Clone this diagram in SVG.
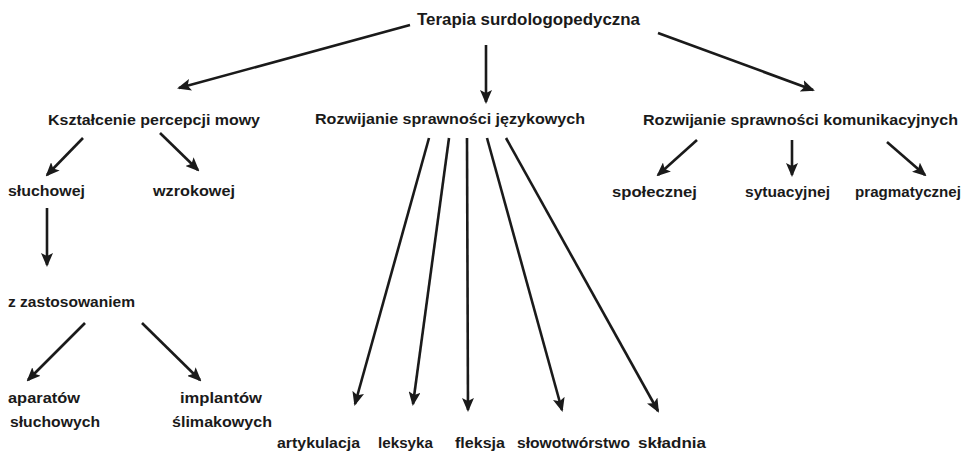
<svg xmlns="http://www.w3.org/2000/svg" width="966" height="452" viewBox="0 0 966 452">
<defs>
<style>
text{font-family:"Liberation Sans",Arial,sans-serif;font-weight:bold;font-size:15px;fill:#1a1a1a}
.title{font-size:16px}
.c line{stroke:#1a1a1a;stroke-width:2.6;fill:none;marker-end:url(#ah)}
</style>
<marker id="ah" markerUnits="userSpaceOnUse" markerWidth="14" markerHeight="12" viewBox="0 0 14 12" refX="12" refY="6" orient="auto">
<path d="M0,0 L14,6 L0,12 L3,6 z" fill="#1a1a1a"/>
</marker>
</defs>
<rect width="966" height="452" fill="#fff"/>
<g id="connectors" class="c">
<line x1="410" y1="25" x2="179" y2="88"/>
<line x1="486" y1="45" x2="486" y2="102"/>
<line x1="658" y1="33" x2="813" y2="90"/>
<line x1="83" y1="138" x2="47" y2="175"/>
<line x1="160" y1="133" x2="198" y2="170"/>
<line x1="47" y1="208" x2="47" y2="265"/>
<line x1="85" y1="323" x2="28" y2="380"/>
<line x1="142" y1="323" x2="200" y2="380"/>
<line x1="429" y1="138" x2="355" y2="404"/>
<line x1="449" y1="138" x2="413" y2="404"/>
<line x1="467" y1="138" x2="468" y2="410"/>
<line x1="487" y1="138" x2="562" y2="410"/>
<line x1="506" y1="138" x2="658" y2="411"/>
<line x1="697" y1="140" x2="658" y2="175"/>
<line x1="792" y1="140" x2="792" y2="175"/>
<line x1="887" y1="142" x2="925" y2="175"/>
</g>
<g id="n-terapia"><text class="title" x="417" y="25" textLength="223" lengthAdjust="spacingAndGlyphs">Terapia surdologopedyczna</text></g>
<g id="n-ksztalcenie"><text x="48" y="125" textLength="212" lengthAdjust="spacingAndGlyphs">Kształcenie percepcji mowy</text></g>
<g id="n-jezykowe"><text x="315" y="124" textLength="270" lengthAdjust="spacingAndGlyphs">Rozwijanie sprawności językowych</text></g>
<g id="n-komunikacyjne"><text x="643" y="125" textLength="315" lengthAdjust="spacingAndGlyphs">Rozwijanie sprawności komunikacyjnych</text></g>
<g id="n-sluchowej"><text x="8" y="196" textLength="77" lengthAdjust="spacingAndGlyphs">słuchowej</text></g>
<g id="n-wzrokowej"><text x="153" y="196" textLength="82" lengthAdjust="spacingAndGlyphs">wzrokowej</text></g>
<g id="n-zastosowaniem"><text x="8" y="307" textLength="127" lengthAdjust="spacingAndGlyphs">z zastosowaniem</text></g>
<g id="n-aparatow"><text x="8" y="403" textLength="72" lengthAdjust="spacingAndGlyphs">aparatów</text><text x="10" y="427" textLength="90" lengthAdjust="spacingAndGlyphs">słuchowych</text></g>
<g id="n-implantow"><text x="180" y="403" textLength="82" lengthAdjust="spacingAndGlyphs">implantów</text><text x="172" y="427" textLength="100" lengthAdjust="spacingAndGlyphs">ślimakowych</text></g>
<g id="n-artykulacja"><text x="277" y="448" textLength="83" lengthAdjust="spacingAndGlyphs">artykulacja</text></g>
<g id="n-leksyka"><text x="378" y="448" textLength="55" lengthAdjust="spacingAndGlyphs">leksyka</text></g>
<g id="n-fleksja"><text x="455" y="448" textLength="50" lengthAdjust="spacingAndGlyphs">fleksja</text></g>
<g id="n-slowotworstwo"><text x="517" y="448" textLength="113" lengthAdjust="spacingAndGlyphs">słowotwórstwo</text></g>
<g id="n-skladnia"><text x="638" y="448" textLength="68" lengthAdjust="spacingAndGlyphs">składnia</text></g>
<g id="n-spolecznej"><text x="612" y="197" textLength="85" lengthAdjust="spacingAndGlyphs">społecznej</text></g>
<g id="n-sytuacyjnej"><text x="745" y="197" textLength="85" lengthAdjust="spacingAndGlyphs">sytuacyjnej</text></g>
<g id="n-pragmatycznej"><text x="855" y="197" textLength="106" lengthAdjust="spacingAndGlyphs">pragmatycznej</text></g>
</svg>
